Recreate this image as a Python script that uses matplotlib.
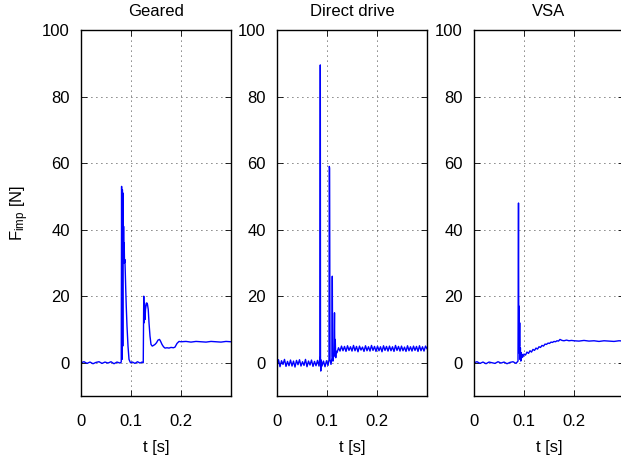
import matplotlib; matplotlib.use('Agg')
import matplotlib.pyplot as plt

plt.rcParams['font.family'] = ['Liberation Sans', 'DejaVu Sans']
plt.rcParams['mathtext.fontset'] = 'custom'
plt.rcParams['mathtext.rm'] = 'Liberation Sans'
plt.rcParams['mathtext.it'] = 'Liberation Sans'

titles = ['Geared', 'Direct drive', 'VSA']
x_ticks = [0, 0.1, 0.2]
x_ticklabels = ['0', '0.1', '0.2']
y_ticks = [0, 20, 40, 60, 80, 100]

# geared actuator
t_geared = [0.000, 0.006, 0.012, 0.018, 0.024, 0.030, 0.036, 0.042, 0.048, 0.054,
            0.060, 0.066, 0.072, 0.078, 0.0805, 0.0812, 0.0820, 0.0828, 0.0835, 0.0840,
            0.0846, 0.0852, 0.0858, 0.0864, 0.0870, 0.0878, 0.0886, 0.0895, 0.0905, 0.0920,
            0.0940, 0.0960, 0.0990, 0.103, 0.108, 0.113, 0.118, 0.122, 0.1245, 0.1255,
            0.1262, 0.1270, 0.1280, 0.1290, 0.1300, 0.1315, 0.1330, 0.1345, 0.1360, 0.1380,
            0.1400, 0.1425, 0.1450, 0.1480, 0.1510, 0.1540, 0.1570, 0.1590, 0.1620, 0.1650,
            0.1680, 0.1720, 0.1760, 0.1800, 0.1850, 0.1880, 0.1920, 0.1960, 0.2000, 0.2100,
            0.2200, 0.2300, 0.2400, 0.2500, 0.2600, 0.2700, 0.2800, 0.2900, 0.3000]
f_geared = [0.0, 0.3, -0.2, 0.2, -0.3, 0.1, 0.3, -0.2, 0.2, -0.1,
            0.3, -0.3, 0.2, -0.1, 0.2, 53.0, 1.0, 52.0, 5.0, 51.0,
            30.0, 41.0, 33.0, 36.0, 30.0, 31.0, 27.0, 22.0, 17.0, 11.0,
            5.0, 1.0, 0.0, 0.2, -0.2, 0.3, -0.1, 0.2, 0.0, 20.0,
            12.0, 18.0, 13.0, 16.0, 17.0, 18.0, 17.5, 16.0, 12.0, 8.0,
            5.5, 5.0, 5.2, 5.5, 6.0, 6.8, 7.0, 6.5, 5.5, 4.8,
            4.4, 4.5, 4.4, 4.6, 4.5, 4.7, 5.8, 6.4, 6.3, 6.4,
            6.2, 6.4, 6.3, 6.2, 6.4, 6.3, 6.2, 6.4, 6.3]

# direct drive
t_direct = [0.000, 0.003, 0.006, 0.009, 0.012, 0.015, 0.018, 0.021, 0.024, 0.027,
            0.030, 0.033, 0.036, 0.039, 0.042, 0.045, 0.048, 0.051, 0.054, 0.057,
            0.060, 0.063, 0.066, 0.069, 0.072, 0.075, 0.078, 0.081, 0.084, 0.0860,
            0.0866, 0.0870, 0.0875, 0.0885, 0.0900, 0.0930, 0.0960, 0.0990, 0.1020, 0.1040,
            0.1046, 0.1052, 0.1060, 0.1080, 0.1100, 0.1106, 0.1112, 0.1120, 0.1140, 0.1150,
            0.1156, 0.1165, 0.1175, 0.1180, 0.1200, 0.1230, 0.1260, 0.1290, 0.1320, 0.1350,
            0.1380, 0.1410, 0.1440, 0.1470, 0.1500, 0.1530, 0.1560, 0.1590, 0.1620, 0.1650,
            0.1680, 0.1710, 0.1740, 0.1770, 0.1800, 0.1830, 0.1860, 0.1890, 0.1920, 0.1950,
            0.1980, 0.2010, 0.2040, 0.2070, 0.2100, 0.2130, 0.2160, 0.2190, 0.2220, 0.2250,
            0.2280, 0.2310, 0.2340, 0.2370, 0.2400, 0.2430, 0.2460, 0.2490, 0.2520, 0.2550,
            0.2580, 0.2610, 0.2640, 0.2670, 0.2700, 0.2730, 0.2760, 0.2790, 0.2820, 0.2850,
            0.2880, 0.2910, 0.2940, 0.2970, 0.3000]
f_direct = [-0.8, 0.9, -1.2, 0.6, -0.5, 1.0, -1.1, 0.4, -0.9, 0.8,
            -1.0, 0.5, -1.3, 0.7, -0.6, 0.9, -1.0, 0.3, -0.8, 1.0,
            -1.2, 0.5, -0.7, 0.8, -1.1, 0.4, -0.9, 0.7, -1.0, 2.0,
            89.5, 1.0, -2.5, 0.8, -1.0, 0.5, -1.2, 0.6, -0.8, 0.9,
            59.0, 58.5, 1.0, -0.5, 1.5, 26.0, 2.0, 0.5, 3.0, 15.0,
            2.0, 7.0, 1.5, 3.5, 3.0, 4.5, 3.5, 5.0, 3.6, 4.9,
            3.4, 5.1, 3.7, 4.8, 3.5, 5.2, 3.6, 4.9, 3.3, 5.0,
            3.8, 4.7, 3.4, 5.1, 3.6, 4.8, 3.5, 5.2, 3.7, 4.9,
            3.4, 5.0, 3.6, 4.8, 3.3, 5.1, 3.7, 4.9, 3.5, 5.0,
            3.6, 4.8, 3.4, 5.2, 3.7, 4.9, 3.5, 5.0, 3.6, 4.7,
            3.4, 5.1, 3.6, 4.8, 3.5, 5.0, 3.7, 4.9, 3.4, 5.1,
            3.6, 4.8, 3.5, 5.0, 4.2]

# variable stiffness actuator
t_vsa = [0.000, 0.006, 0.012, 0.018, 0.024, 0.030, 0.036, 0.042, 0.048, 0.054,
         0.060, 0.066, 0.072, 0.078, 0.084, 0.0880, 0.0890, 0.0896, 0.0902, 0.0908,
         0.0914, 0.0920, 0.0928, 0.0936, 0.0945, 0.0955, 0.0965, 0.0980, 0.1000, 0.1030,
         0.1060, 0.1090, 0.1120, 0.1150, 0.1180, 0.1210, 0.1240, 0.1270, 0.1300, 0.1330,
         0.1360, 0.1390, 0.1420, 0.1450, 0.1480, 0.1510, 0.1540, 0.1570, 0.1600, 0.1630,
         0.1660, 0.1690, 0.1720, 0.1760, 0.1800, 0.1850, 0.1900, 0.1950, 0.2000, 0.2100,
         0.2200, 0.2300, 0.2400, 0.2500, 0.2600, 0.2700, 0.2800, 0.2900, 0.3000]
f_vsa = [0.0, 0.3, -0.2, 0.2, -0.3, 0.2, 0.0, -0.2, 0.3, -0.1,
         0.2, -0.3, 0.1, 0.3, -0.2, 0.5, 48.0, 3.0, 17.0, 5.0,
         12.0, 1.0, 4.5, 0.5, 3.0, 1.5, 2.5, 1.8, 2.6, 2.3,
         3.2, 2.8, 3.6, 3.2, 4.0, 3.7, 4.4, 4.1, 4.8, 4.6,
         5.2, 5.0, 5.6, 5.5, 5.9, 5.8, 6.2, 6.1, 6.4, 6.3,
         6.6, 6.5, 7.0, 6.7, 6.6, 6.8, 6.6, 6.7, 6.6, 6.5,
         6.7, 6.5, 6.6, 6.4, 6.6, 6.5, 6.4, 6.6, 6.5]

series = [(t_geared, f_geared), (t_direct, f_direct), (t_vsa, f_vsa)]
lefts = [81 / 621, 277 / 621, 474 / 621]

fig = plt.figure(figsize=(6.21, 4.55), dpi=100)
for i, (tt, ff) in enumerate(series):
    ax = fig.add_axes([lefts[i], 1 - 396 / 455, 150 / 621, 366 / 455])
    ax.plot(tt, ff, color=(0, 0, 1), lw=1.0)
    ax.set_xlim(0, 0.3)
    ax.set_ylim(-10, 100)
    ax.set_xticks(x_ticks)
    ax.set_xticklabels(x_ticklabels)
    ax.set_yticks(y_ticks)
    ax.tick_params(direction='in', length=4, width=0.6, top=True, right=True,
                   labelsize=12, colors='black')
    ax.tick_params(axis='y', pad=8)
    ax.tick_params(axis='x', pad=13)
    ax.grid(True, linestyle=(0, (1, 5)), color='black', linewidth=0.6)
    for s in ax.spines.values():
        s.set_linewidth(1.0)
    ax.set_title(titles[i], fontsize=12, pad=10)
    ax.set_xlabel('t [s]', fontsize=12, labelpad=8)
    if i == 0:
        ax.set_ylabel(r'F$_{\mathrm{imp}}$ [N]', fontsize=12, labelpad=8)

fig.savefig('out.png', dpi=100)
